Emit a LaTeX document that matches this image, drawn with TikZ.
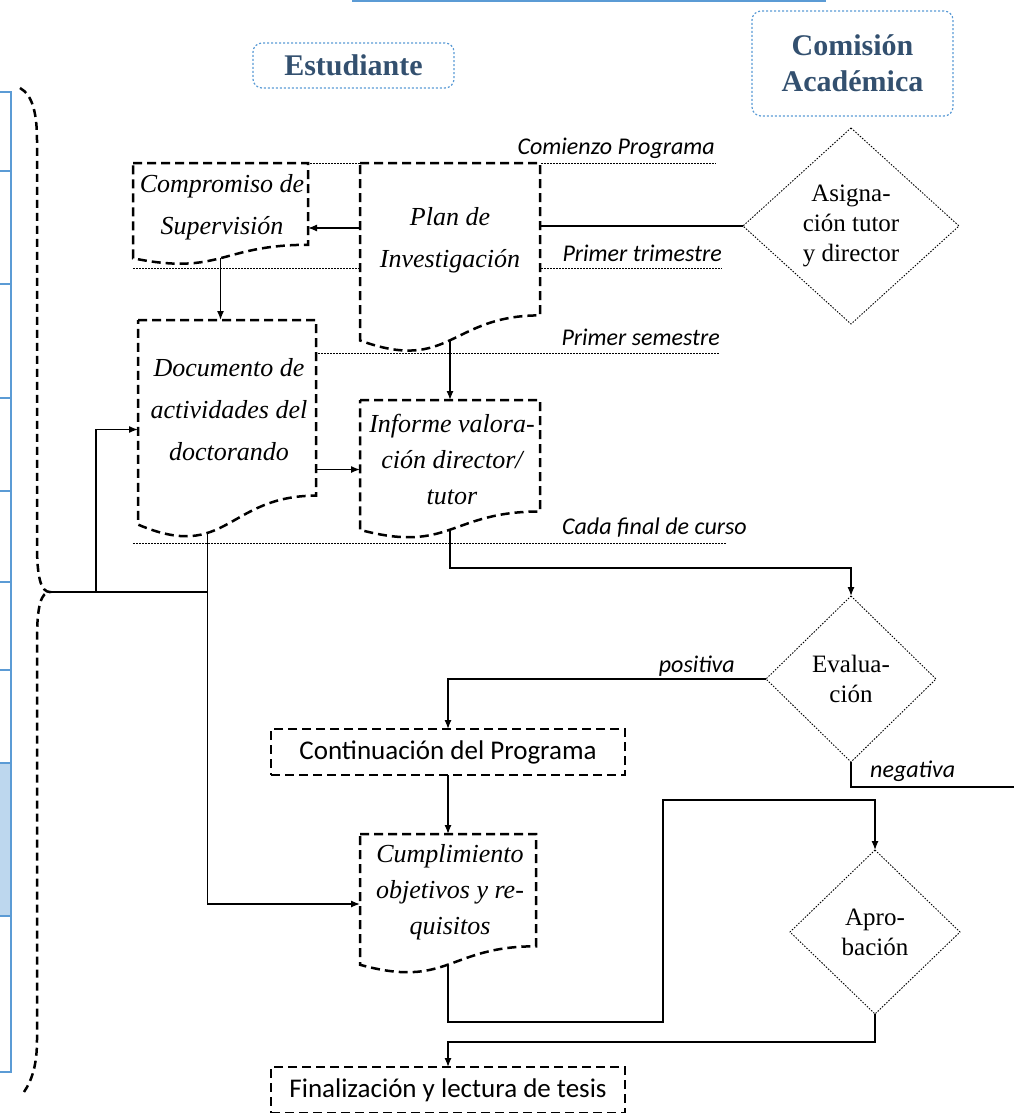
\documentclass[tikz,border=0pt]{standalone}
\usepackage{fontspec}
\setmainfont{Liberation Serif}
\newfontfamily\calib{Carlito}
\usetikzlibrary{arrows.meta,calc}
\definecolor{hdblue}{HTML}{5B9BD5}
\definecolor{hdtext}{HTML}{33506F}
\definecolor{boxfill}{HTML}{BDD7EE}
\tikzset{
  dashbox/.style={line width=2.5pt, dash pattern=on 9pt off 5pt, black},
  dotln/.style={line width=0.9pt, dash pattern=on 1.5pt off 1.5pt},
  conn/.style={line width=1.3pt},
  arr/.style={conn, -{Latex[length=9pt,width=7pt]}},
  shapebox/.style={rectangle, inner sep=0pt, outer sep=0pt, anchor=north west},
  doctext/.style={align=center, inner sep=0pt, font=\fontsize{26}{42}\selectfont\itshape},
  doctextb/.style={align=center, inner sep=0pt, font=\fontsize{26}{36}\selectfont\itshape},
  dnode/.style={rectangle, inner sep=0pt, outer sep=0pt, align=center, font=\fontsize{25}{30}\selectfont},
  rbox/.style={rectangle, draw, dashbox, fill=white, inner sep=0pt, outer sep=0pt, font=\calib\fontsize{27}{30}\selectfont},
  hdbox/.style={rectangle, draw=hdblue, line width=1.2pt, dash pattern=on 2pt off 2pt, rounded corners=9pt, text=hdtext, font=\fontsize{30}{36}\selectfont\bfseries, align=center, inner sep=0pt},
  lbl/.style={inner sep=0pt, font=\calib\fontsize{24}{28}\selectfont\itshape},
  brace/.style={line width=2.5pt, dash pattern=on 8pt off 5pt},
}
\newcommand\docpath[2]{%
  \draw[dashbox,fill=white] (#1.north west) -- (#1.north east) -- ($(#1.north east)!0.802!(#1.south east)$)
    .. controls ($(#1.north)!0.802!(#1.south)$) and ($(#1.north)!1.1075!(#1.south)$) ..
    coordinate[pos=#2] (#1-b) ($(#1.north west)!0.934!(#1.south west)$) -- cycle;}
\begin{document}
\begin{tikzpicture}[x=1pt,y=-1pt]
\useasboundingbox (0,0) rectangle (1013,1113);

% top blue line
\draw[hdblue, line width=2.5pt] (352,0.5) -- (826,0.5);

% left blue boxes
\fill[boxfill] (-10,763) rectangle (11,916);
\foreach \a/\b in {92/171,171/284,284/398,398/491,491/582,582/670,670/763,763/916,916/1072}
  \draw[hdblue, line width=2pt] (-10,\a) rectangle (11,\b);

% headers
\node[hdbox, minimum width=201pt, minimum height=45pt] (estu) at (353.5,65.5) {Estudiante};
\node[hdbox, minimum width=201pt, minimum height=105pt] (comi) at (852.5,63.5) {Comisión\\Académica};

% time lines
\coordinate (l1a) at (133,163); \coordinate (l1b) at (716,163);
\coordinate (l2a) at (133,268); \coordinate (l2b) at (722,268);
\coordinate (l3a) at (300,353); \coordinate (l3b) at (720,353);
\coordinate (l4a) at (133,543); \coordinate (l4b) at (726,543);
\draw[dotln] (l1a) -- (l1b);
\draw[dotln] (l2a) -- (l2b);
\draw[dotln] (l3a) -- (l3b);
\draw[dotln] (l4a) -- (l4b);
\node[lbl, anchor=base east] (t1) at (715,154) {Comienzo Programa};
\node[lbl, anchor=base east] (t2) at (722,261) {Primer trimestre};
\node[lbl, anchor=base east] (t3) at (720,345) {Primer semestre};
\node[lbl, anchor=base east] (t4) at (747,534) {Cada final de curso};

% documents
\node[shapebox, minimum width=175pt, minimum height=102pt] (comp) at (133,163) {};
\node[shapebox, minimum width=180pt, minimum height=190pt] (plan) at (360,163) {};
\node[shapebox, minimum width=178pt, minimum height=219pt] (doc) at (138,320) {};
\node[shapebox, minimum width=180pt, minimum height=139pt] (inf) at (360,400) {};
\node[shapebox, minimum width=176pt, minimum height=140pt] (cum) at (360,834) {};
\docpath{comp}{0.5}
\docpath{plan}{0.5}
\docpath{doc}{0.64}
\docpath{inf}{0.5}
\docpath{cum}{0.5}
\node[doctext] (comp-t) at (222,207) {Compromiso de\\Supervisión};
\node[doctext] (plan-t) at (450,240) {Plan de\\Investigación};
\node[doctext] (doc-t) at (229,410) {Documento de\\actividades del\\doctorando};
\node[doctextb] (inf-t) at (452,459) {Informe valora-\\ción director/\\tutor};
\node[doctextb] (cum-t) at (450,892) {Cumplimiento\\objetivos y re-\\quisitos};

% rect boxes
\node[rbox, minimum width=354pt, minimum height=46pt] (cont) at (448,752) {Continuación del Programa};
\node[rbox, minimum width=354pt, minimum height=46pt] (fin) at (448,1090) {Finalización y lectura de tesis};

% diamonds
\node[dnode, minimum width=216pt, minimum height=196pt] (asig) at (851,226) {Asigna-\\ción tutor\\y director};
\node[dnode, minimum width=170pt, minimum height=166pt] (eval) at (851,679) {Evalua-\\ción};
\node[dnode, minimum width=170pt, minimum height=164pt] (aprob) at (875,932) {Apro-\\bación};
\foreach \d in {asig,eval,aprob}
  \draw[dotln] (\d.north) -- (\d.east) -- (\d.south) -- (\d.west) -- cycle;

% brace
\coordinate (tip) at (50,592);
\draw[brace] (20,88) .. controls (33,95) and (37,115) .. (37,140) -- (37,545)
  .. controls (37,578) and (41,592) .. (tip)
  .. controls (41,592) and (37,606) .. (37,640) -- (37,1040)
  .. controls (37,1065) and (32,1080) .. (24,1092);

% connectors
\coordinate (py) at (0,228);
\draw[arr] (plan.west |- py) -- (comp.east |- py);
\draw[conn] (plan.east |- asig.west) -- (asig.west);
\draw[arr] (comp-b) -- (comp-b |- doc.north);
\draw[arr] (plan-b) -- (plan-b |- inf.north);
\draw[arr] (doc.east |- inf.west) -- (inf.west);
\coordinate (iy) at (0,568);
\draw[arr] (inf-b) -- (inf-b |- iy) -| (eval.north);
\draw[arr] (eval.west) -| (cont.north);
\node[lbl, anchor=base east] (pos) at (735,672) {positiva};
\coordinate (negend) at (1014,787);
\draw[conn] (eval.south) |- (negend);
\node[lbl, anchor=base west] (neg) at (870,777) {negativa};
\draw[arr] (cont.south) -- (cont.south |- cum.north);
\coordinate (r1) at (663,1022);
\coordinate (r2) at (663,800);
\draw[arr] (cum-b) |- (r1) -- (r2) -| (aprob.north);
\coordinate (ay) at (0,1042);
\draw[arr] (aprob.south) -- (aprob.south |- ay) -| (fin.north);
\coordinate (j1) at (96,592);
\draw[conn] (tip) -- (tip -| doc-b);
\draw[arr] (j1) |- (doc.west);
\draw[arr] (doc-b) |- (cum.west);
\end{tikzpicture}
\end{document}
